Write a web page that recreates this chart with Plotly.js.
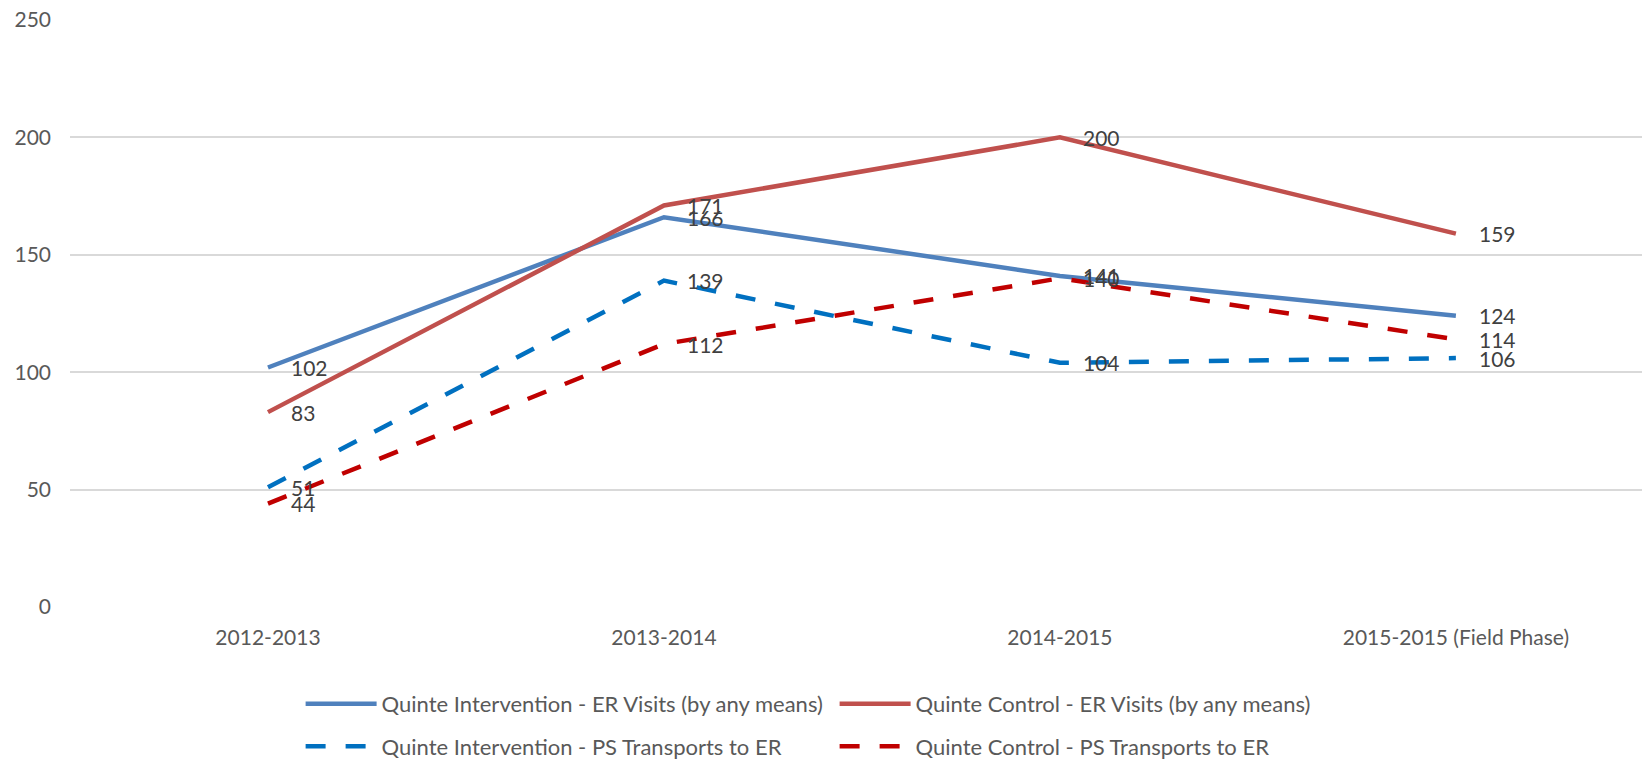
<!DOCTYPE html>
<html>
<head>
<meta charset="utf-8">
<script src="https://cdn.plot.ly/plotly-3.0.1.min.js"></script>
<style>html,body{margin:0;padding:0;background:#fff;}#chart{width:1642px;height:761px;}</style>
</head>
<body>
<div id="chart"></div>
<script>
const categories = ["2012-2013", "2013-2014", "2014-2015", "2015-2015 (Field Phase)"];
const interventionER = [102, 166, 141, 124];
const controlER = [83, 171, 200, 159];
const interventionPS = [51, 139, 104, 106];
const controlPS = [44, 112, 140, 114];
const seriesNames = [
  "Quinte Intervention - ER Visits (by any means)",
  "Quinte Control - ER Visits (by any means)",
  "Quinte Intervention - PS Transports to ER",
  "Quinte Control - PS Transports to ER"
];
const yTicks = [0, 50, 100, 150, 200, 250];

const FONT = "Lato, 'Open Sans', sans-serif";
const xIdx = categories.map((c, i) => i);

const series = [
  {y: interventionER, color: "#4F81BD", dash: "solid", legend: "legend"},
  {y: controlER, color: "#C0504D", dash: "solid", legend: "legend"},
  {y: interventionPS, color: "#0070C0", dash: "20px,20px", legend: "legend2"},
  {y: controlPS, color: "#C00000", dash: "20px,20px", legend: "legend2"}
];

const traces = series.map((s, k) => ({
  type: "scatter",
  mode: "lines",
  x: xIdx,
  y: s.y,
  name: seriesNames[k],
  legend: s.legend,
  line: {color: s.color, width: 4.5, dash: s.dash},
  hoverinfo: "x+y+name"
}));

const annotations = [];
series.forEach(s => {
  s.y.forEach((v, i) => {
    annotations.push({
      x: i, y: v, xref: "x", yref: "y",
      text: String(v), showarrow: false,
      xanchor: "left", yanchor: "middle", xshift: 21,
      font: {family: FONT, size: 21, color: "#404040"}
    });
  });
});

const legendCommon = {
  orientation: "h",
  xanchor: "left",
  yanchor: "middle",
  x: 0.1467,
  font: {family: FONT, size: 22, color: "#595959"},
  itemwidth: 71,
  entrywidth: 448,
  entrywidthmode: "pixels",
  bgcolor: "rgba(0,0,0,0)",
  traceorder: "normal"
};

const layout = {
  width: 1642, height: 761,
  margin: {l: 70, r: 0, t: 20, b: 154, autoexpand: false},
  paper_bgcolor: "#ffffff",
  plot_bgcolor: "#ffffff",
  font: {family: FONT, size: 21, color: "#595959"},
  showlegend: true,
  xaxis: {
    range: [-0.5, 3.47],
    tickmode: "array",
    tickvals: xIdx,
    ticktext: categories,
    showgrid: false,
    zeroline: false,
    showline: false,
    ticks: "",
    ticklabelstandoff: 16,
    tickfont: {family: FONT, size: 21, color: "#595959"},
    fixedrange: true
  },
  yaxis: {
    range: [0, 250],
    tickmode: "array",
    tickvals: yTicks,
    showgrid: true,
    gridcolor: "#D9D9D9",
    gridwidth: 1.5,
    zeroline: false,
    showline: false,
    ticks: "",
    ticklabelstandoff: 18,
    tickfont: {family: FONT, size: 21, color: "#595959"},
    fixedrange: true
  },
  legend: Object.assign({}, legendCommon, {y: -0.165}),
  legend2: Object.assign({}, legendCommon, {y: -0.2375}),
  annotations: annotations
};

Plotly.newPlot("chart", traces, layout, {displayModeBar: false, staticPlot: false});
</script>
</body>
</html>
